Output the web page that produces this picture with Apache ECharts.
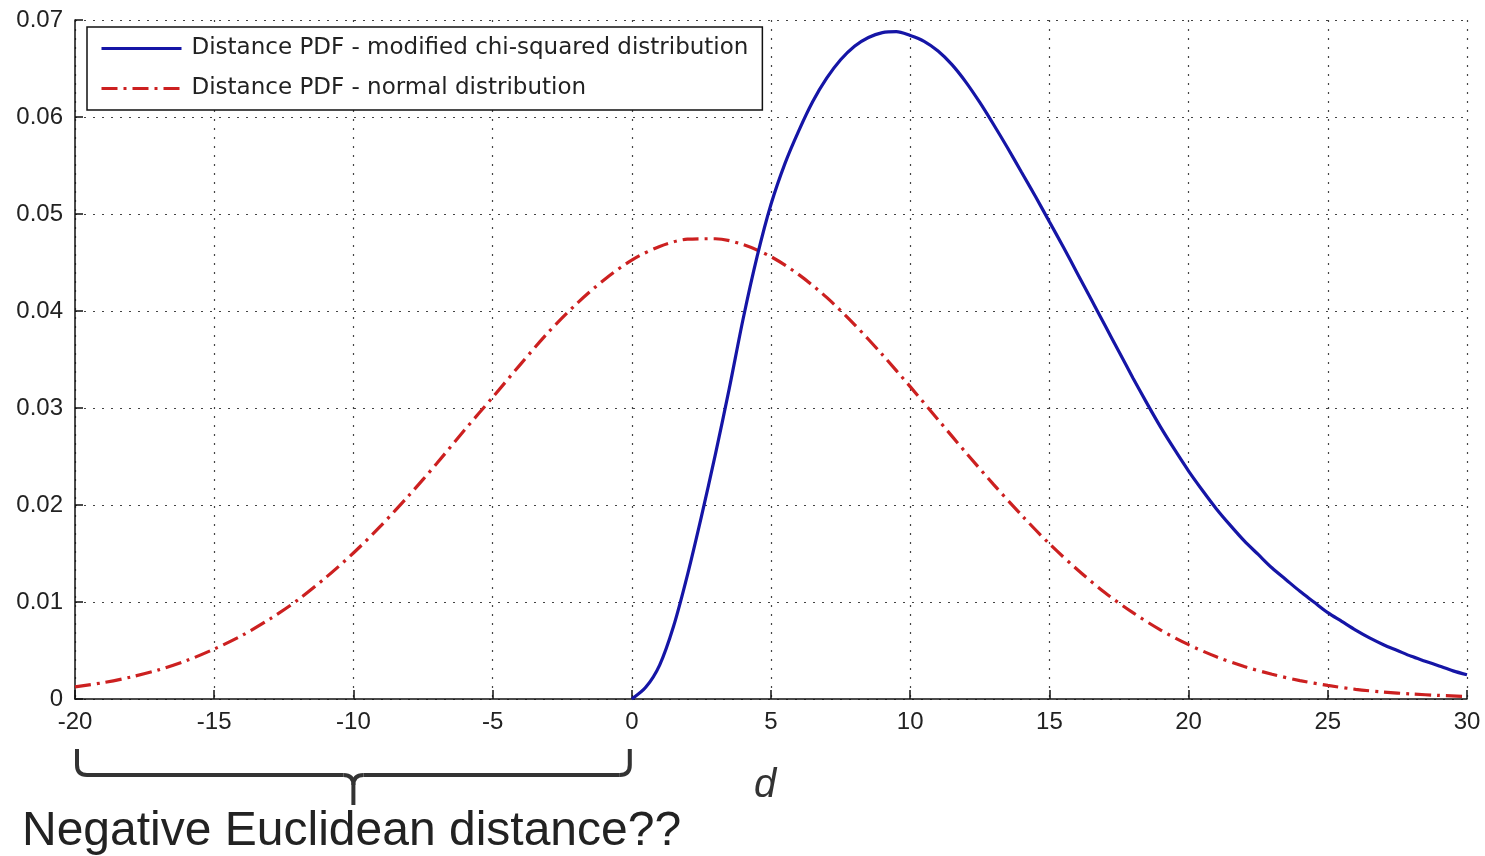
<!DOCTYPE html>
<html>
<head>
<meta charset="utf-8">
<script src="https://cdn.jsdelivr.net/npm/echarts@6/dist/echarts.min.js"></script>
<style>
html,body{margin:0;padding:0;background:#fff;}
#c{width:1485px;height:856px;}
</style>
</head>
<body>
<div id="c"></div>
<script>
var seriesNames = ['Distance PDF - modified chi-squared distribution', 'Distance PDF - normal distribution'];

var chiX = [0,0.5,1,1.5,2,2.5,3,3.5,4,4.5,5,5.5,6,6.5,7,7.5,8,8.5,9,9.5,10,10.5,11,11.5,12,12.5,13,13.5,14,14.5,15,15.5,16,16.5,17,17.5,18,18.5,19,19.5,20,20.5,21,21.5,22,22.5,23,23.5,24,24.5,25,25.5,26,26.5,27,27.5,28,28.5,29,29.5,30];
var chiY = [0,0.0012,0.0035,0.0075,0.0128,0.0188,0.0252,0.0320,0.0392,0.0456,0.0510,0.0552,0.0586,0.0616,0.0640,0.0659,0.0673,0.0682,0.0687,0.0688,0.0684,0.0678,0.0668,0.0654,0.0636,0.0615,0.0592,0.0568,0.0543,0.0518,0.0492,0.0466,0.0439,0.0412,0.0385,0.0358,0.0331,0.0305,0.0280,0.0257,0.0235,0.0215,0.0196,0.0179,0.0163,0.0149,0.0135,0.0123,0.0111,0.0100,0.0089,0.0080,0.0071,0.0063,0.0056,0.0050,0.0044,0.0039,0.0034,0.0029,0.0025];

var normX = [-20,-19,-18,-17,-16,-15,-14,-13,-12,-11,-10,-9,-8,-7,-6,-5,-4,-3,-2,-1,0,1,2,3,4,5,6,7,8,9,10,11,12,13,14,15,16,17,18,19,20,21,22,23,24,25,26,27,28,29,30];
var normY = [0.00125,0.00168,0.00226,0.00300,0.00395,0.00515,0.00655,0.00825,0.01020,0.01250,0.01505,0.01790,0.02100,0.02430,0.02775,0.03110,0.03450,0.03780,0.04070,0.04320,0.04525,0.04665,0.04740,0.04745,0.04685,0.04560,0.04375,0.04140,0.03860,0.03550,0.03220,0.02880,0.02540,0.02210,0.01895,0.01600,0.01335,0.01095,0.00890,0.00710,0.00560,0.00435,0.00335,0.00255,0.00190,0.00140,0.00100,0.00072,0.00052,0.00037,0.00026];

var xTicks = [-20,-15,-10,-5,0,5,10,15,20,25,30];
var yTicks = [0,0.01,0.02,0.03,0.04,0.05,0.06,0.07];

function pairs(xs, ys){ return xs.map(function(x,i){ return [x, ys[i]]; }); }

var chart = echarts.init(document.getElementById('c'), null, {renderer:'canvas'});
var tickFont = {fontFamily:'Liberation Sans, Arial, sans-serif', fontSize:24, color:'#222'};
var gridDot = {show:true, lineStyle:{type:[2,7], color:'#444', width:1.2}};

chart.setOption({
  backgroundColor:'#ffffff',
  animation:false,
  grid:{left:75, right:18, top:20, bottom:157, containLabel:false},
  legend:{
    orient:'vertical', left:87, top:27,
    backgroundColor:'#ffffff', borderColor:'#111', borderWidth:1.5,
    padding:[10,14,10,13], itemGap:17, itemWidth:80, itemHeight:14,
    itemStyle:{color:'transparent', borderColor:'transparent', borderWidth:0},
    lineStyle:{width:3},
    textStyle:{fontFamily:'DejaVu Sans, sans-serif', fontSize:23, color:'#222', padding:[0,0,0,5]},
    data:seriesNames
  },
  xAxis:{
    type:'value', min:xTicks[0], max:xTicks[xTicks.length-1], interval:5,
    name:'d', nameLocation:'middle', nameGap:67,
    nameTextStyle:{fontFamily:'Liberation Sans, Arial, sans-serif', fontSize:40, fontStyle:'italic', color:'#333', padding:[0,12,0,0]},
    axisLine:{show:true, onZero:false, lineStyle:{color:'#111', width:1.5}},
    axisTick:{show:true, inside:true, length:9, lineStyle:{color:'#111', width:1.5}},
    axisLabel:Object.assign({margin:11}, tickFont),
    splitLine:gridDot
  },
  yAxis:{
    type:'value', min:yTicks[0], max:yTicks[yTicks.length-1], interval:0.01,
    axisLine:{show:true, onZero:false, lineStyle:{color:'#111', width:1.5}},
    axisTick:{show:true, inside:true, length:8, lineStyle:{color:'#111', width:1.5}},
    axisLabel:Object.assign({margin:12, formatter:function(v){ return v===0 ? '0' : v.toFixed(2); }}, tickFont),
    splitLine:gridDot
  },
  series:[
    {
      name:seriesNames[0], type:'line', data:pairs(chiX, chiY),
      symbol:'none', smooth:0.3, z:3,
      lineStyle:{color:'#1515a6', width:3.2}, itemStyle:{color:'#1515a6'}
    },
    {
      name:seriesNames[1], type:'line', data:pairs(normX, normY),
      symbol:'none', smooth:0.3, z:2,
      lineStyle:{color:'#cc2020', width:3.2, type:[16,6,3,6]}, itemStyle:{color:'#cc2020'}
    }
  ]
});

var p0 = chart.convertToPixel({gridIndex:0}, [-20, 0]);
var p1 = chart.convertToPixel({gridIndex:0}, [0, 0]);
var x0 = p0[0] + 2, x1 = p1[0] - 2, xm = (x0 + x1) / 2;
var yTop = 749, yBar = 775, yTip = 805, r = 10;
var bs = {stroke:'#333', lineWidth:4, fill:null};
function ln(a,b,c,d){ return {type:'line', shape:{x1:a,y1:b,x2:c,y2:d}, style:bs}; }
function qb(a,b,cx,cy,c,d){ return {type:'bezierCurve', shape:{x1:a,y1:b,cpx1:cx,cpy1:cy,x2:c,y2:d}, style:bs}; }

chart.setOption({
  graphic:[
    ln(x0,yTop,x0,yBar-r),
    qb(x0,yBar-r,x0,yBar,x0+r,yBar),
    ln(x0+r,yBar,xm-r,yBar),
    qb(xm-r,yBar,xm,yBar,xm,yBar+r),
    ln(xm,yBar+r,xm,yTip),
    qb(xm,yBar+r,xm,yBar,xm+r,yBar),
    ln(xm+r,yBar,x1-r,yBar),
    qb(x1-r,yBar,x1,yBar,x1,yBar-r),
    ln(x1,yBar-r,x1,yTop),
    {type:'text', left:22, top:808, style:{text:'Negative Euclidean distance??', font:'48px "Liberation Sans", Arial, sans-serif', fill:'#222'}}
  ]
});
</script>
</body>
</html>
